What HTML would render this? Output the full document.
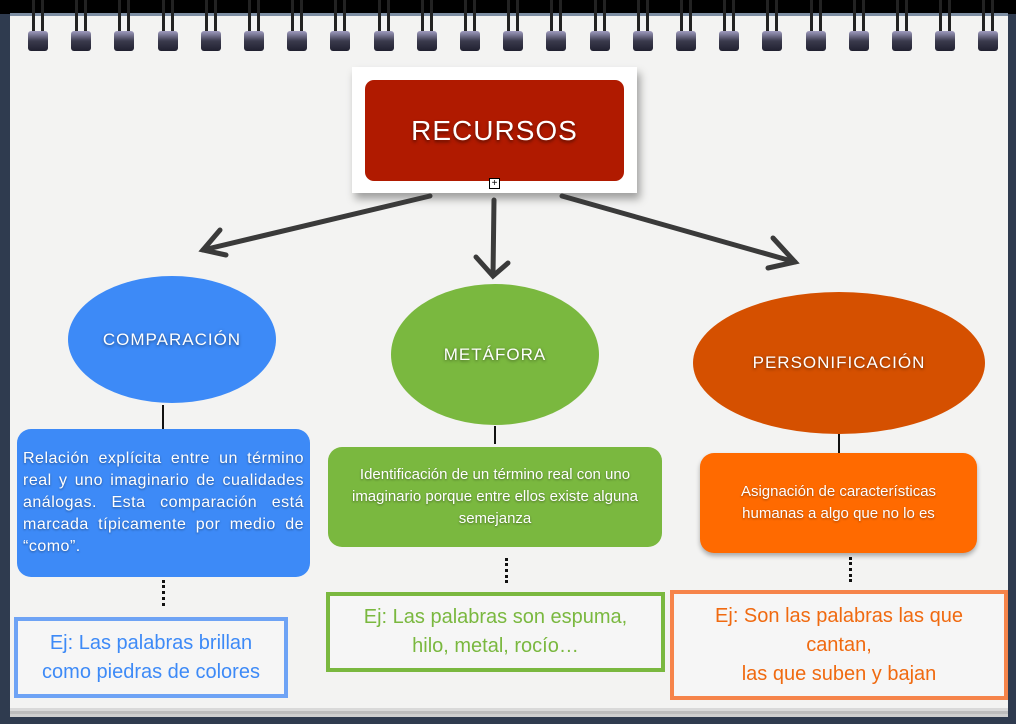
<!DOCTYPE html>
<html><head><meta charset="utf-8"><style>
body{margin:0;width:1016px;height:724px;overflow:hidden;background:#2f3b4f;font-family:"Liberation Sans",sans-serif;position:relative}
.a{position:absolute}
.paper{left:10px;top:13px;width:998px;height:692px;background:#f3f3f2;border-top:3px solid #7d8ea3;box-shadow:0 3px 0 #d9d9d9,0 6px 0 #bdbdbd,0 9px 0 #cfcfcf}
.ring{position:absolute;top:0;width:22px;height:52px}
.ring:before{content:"";position:absolute;left:4px;top:0;width:3px;height:36px;background:#222;box-shadow:9px 0 0 #222}
.ring:after{content:"";position:absolute;left:0;top:31px;width:20px;height:20px;background:linear-gradient(#a09cc0,#3a3a4c 50%,#202030);border-radius:3px}
.ell{display:flex;align-items:center;justify-content:center;color:#fff;border-radius:50%;font-size:17px;letter-spacing:1px;text-shadow:0 1px 3px rgba(0,0,0,.5)}
.box{display:flex;align-items:center;justify-content:center;text-align:center;color:#fff;border-radius:14px;font-size:15px;line-height:22px;text-shadow:0 1px 2px rgba(0,0,0,.4)}
.ex{display:flex;align-items:center;justify-content:center;text-align:center;font-size:20px;line-height:29px;background:#f6f6f6;box-sizing:border-box}
.vl{position:absolute;width:2px;background:#111}
.dl{position:absolute;width:0;border-left:3px dotted #111}
</style></head><body>
<div class="a" style="left:0;top:0;width:1016px;height:14px;background:#000"></div>
<div class="a paper"></div>
<div id="rings"></div>
<script>
var r=document.getElementById('rings');for(var i=0;i<23;i++){var d=document.createElement('div');d.className='ring';d.style.left=(28+i*43.2)+'px';r.appendChild(d);}
</script>
<div class="a" style="left:352px;top:67px;width:285px;height:126px;background:#fff;box-shadow:3px 6px 8px rgba(0,0,0,.35)"></div>
<div class="a" style="left:365px;top:80px;width:259px;height:101px;background:#b01a00;border-radius:9px;display:flex;align-items:center;justify-content:center;color:#fff;font-size:28px;letter-spacing:1px;text-shadow:0 2px 3px rgba(0,0,0,.5)">RECURSOS</div>
<div class="a" style="left:489px;top:178px;width:9px;height:9px;border:1px solid #000;background:#fff;font-size:10px;line-height:9px;text-align:center">+</div>
<svg class="a" style="left:0;top:0" width="1016" height="724">
<g stroke="#3a3a3a" stroke-width="5" fill="none" stroke-linecap="round">
<line x1="430" y1="196" x2="203" y2="250"/><polyline points="220,230 203,250 226,255"/>
<line x1="494" y1="200" x2="493" y2="275"/><polyline points="476,257 493,276 508,263"/>
<line x1="562" y1="196" x2="795" y2="262"/><polyline points="773,238 795,262 768,268"/>
</g></svg>
<div class="a ell" style="left:68px;top:276px;width:208px;height:127px;background:#3d8af7">COMPARACIÓN</div>
<div class="a ell" style="left:391px;top:284px;width:208px;height:141px;background:#7ab83f">METÁFORA</div>
<div class="a ell" style="left:693px;top:292px;width:292px;height:142px;background:#d55000">PERSONIFICACIÓN</div>
<div class="vl" style="left:162px;top:405px;height:25px"></div>
<div class="vl" style="left:494px;top:426px;height:18px"></div>
<div class="vl" style="left:838px;top:434px;height:19px"></div>
<div class="a box" style="left:17px;top:429px;width:293px;height:148px;background:#3d8af7;text-align:justify;font-size:16px;letter-spacing:0.5px;line-height:22px;padding:0 6px;box-sizing:border-box">Relación explícita entre un término real y uno imaginario de cualidades análogas. Esta comparación está marcada típicamente por medio de “como”.</div>
<div class="a box" style="left:328px;top:447px;width:334px;height:100px;background:#7ab83f">Identificación de un término real con uno imaginario porque entre ellos existe alguna semejanza</div>
<div class="a box" style="left:700px;top:453px;width:277px;height:100px;background:#ff6a00;box-shadow:0 3px 5px rgba(0,0,0,.3)">Asignación de características<br>humanas a algo que no lo es</div>
<div class="dl" style="left:162px;top:580px;height:26px"></div>
<div class="dl" style="left:505px;top:558px;height:25px"></div>
<div class="dl" style="left:849px;top:557px;height:25px"></div>
<div class="a ex" style="left:14px;top:617px;width:274px;height:81px;border:4px solid #6ea3f5;color:#3d8af7">Ej: Las palabras brillan<br>como piedras de colores</div>
<div class="a ex" style="left:326px;top:592px;width:339px;height:80px;border:4px solid #7ab83f;color:#7ab83f">Ej: Las palabras son espuma,<br>hilo, metal, rocío…</div>
<div class="a ex" style="left:670px;top:590px;width:338px;height:110px;border:4px solid #f6844a;color:#f06a10">Ej: Son las palabras las que<br>cantan,<br>las que suben y bajan</div>
</body></html>
